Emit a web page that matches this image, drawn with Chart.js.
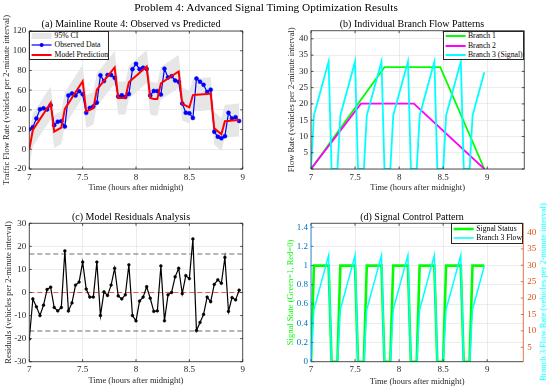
<!DOCTYPE html>
<html><head><meta charset="utf-8">
<script src="https://cdn.jsdelivr.net/npm/chart.js@4.4.0/dist/chart.umd.min.js"></script>
<style>
html,body{margin:0;padding:0;background:#fff;}
#wrap{position:relative;width:550px;height:388px;overflow:hidden;background:#fff;font-family:'Liberation Serif','Times New Roman',serif;color:#000;}
canvas{position:absolute;left:0;top:0;}
.t{position:absolute;white-space:nowrap;transform:translate(-50%,-50%);line-height:1;}
.leg{position:absolute;background:#fff;border:0.7px solid #262626;box-sizing:border-box;font-size:7.7px;}
.legtx{position:absolute;white-space:nowrap;line-height:1;transform:translateY(-50%);color:#000;}
</style></head>
<body><div id="wrap">
<canvas id="ca" width="550" height="388"></canvas>
<canvas id="cb" width="550" height="388"></canvas>
<canvas id="cc" width="550" height="388"></canvas>
<canvas id="cd" width="550" height="388"></canvas>
<div class="t" style="left:266px;top:7.5px;font-size:11.3px;">Problem 4: Advanced Signal Timing Optimization Results</div>
<div class="t" style="left:131px;top:24px;font-size:10px;">(a) Mainline Route 4: Observed vs Predicted</div>
<div class="t" style="left:412px;top:24px;font-size:10px;">(b) Individual Branch Flow Patterns</div>
<div class="t" style="left:131px;top:216.7px;font-size:10px;">(c) Model Residuals Analysis</div>
<div class="t" style="left:412px;top:216.7px;font-size:10px;">(d) Signal Control Pattern</div>
<div class="t" style="left:543.3px;top:292px;font-size:8.5px;color:#00FFFF;transform:translate(-50%,-50%) rotate(-90deg);">Branch 3 Flow Rate (vehicles per 2-minute interval)</div>
</div>
<script>
// ---------- data ----------
const timeHours = [
 7.0000,7.0333,7.0667,7.1000,7.1333,7.1667,7.2000,7.2333,7.2667,7.3000,
 7.3333,7.3667,7.4000,7.4333,7.4667,7.5000,7.5333,7.5667,7.6000,7.6333,
 7.6667,7.7000,7.7333,7.7667,7.8000,7.8333,7.8667,7.9000,7.9333,7.9667,
 8.0000,8.0333,8.0667,8.1000,8.1333,8.1667,8.2000,8.2333,8.2667,8.3000,
 8.3333,8.3667,8.4000,8.4333,8.4667,8.5000,8.5333,8.5667,8.6000,8.6333,
 8.6667,8.7000,8.7333,8.7667,8.8000,8.8333,8.8667,8.9000,8.9333,8.9667];
const observedFlow = [
 20.2,22.4,31.3,40.6,41.6,40.3,44.8,24.5,28.0,28.5,
 23.0,54.6,56.7,54.6,58.9,55.8,37.0,42.0,43.5,47.3,
 75.0,69.2,75.3,75.3,72.5,53.5,54.8,53.0,56.0,81.2,
 86.7,81.3,82.8,81.5,54.5,59.2,59.0,55.5,81.7,72.8,
 74.2,69.8,68.5,46.5,37.0,36.6,31.8,71.8,68.6,65.4,
 58.2,60.5,17.8,12.8,11.2,13.3,37.0,31.3,32.6,28.7];
const predictedFlow = [
 0.0,19.6,25.1,30.6,36.1,41.6,47.1,18.0,20.0,22.0,
 41.0,46.6,52.2,57.8,63.4,69.0,38.5,40.0,41.5,60.5,
 65.0,69.5,74.0,78.5,83.0,52.0,52.0,52.0,68.0,71.2,
 74.4,77.6,80.8,84.0,52.0,51.0,51.0,67.0,69.4,71.8,
 74.2,76.6,79.0,46.0,44.3,42.6,55.0,55.3,55.6,55.9,
 56.2,56.5,21.3,18.3,15.2,28.5,28.8,29.1,29.4,29.7];
const residuals = [
 -20.2,-2.8,-6.2,-10.0,-5.5,1.3,2.3,-6.5,-8.0,-6.5,
 18.0,-8.0,-4.5,3.2,4.5,13.2,1.5,-2.0,-2.0,13.2,
 -10.0,0.3,-1.3,3.2,10.5,-1.5,-2.8,-1.0,12.0,-10.0,
 -12.3,-3.7,-2.0,2.5,-2.5,-8.2,-8.0,11.5,-12.3,-1.0,
 0.0,6.8,10.5,-0.5,7.3,6.0,23.2,-16.5,-13.0,-9.5,
 -2.0,-4.0,3.5,5.5,4.0,15.2,-8.2,-2.2,-3.2,1.0];
const ciHalfWidth = 16.7;
const residualBound = 16.7;
const signalStatus = [
 0,1,1,1,1,1,1,0,0,0,
 1,1,1,1,1,1,0,0,0,
 1,1,1,1,1,1,0,0,0,
 1,1,1,1,1,1,0,0,0,
 1,1,1,1,1,1,0,0,0,
 1,1,1,1,1,1,0,0,0,
 1,1,1,1,1];
const branch3Flow = [
 0,16.5,19.8,23.1,26.4,29.7,33.0,0,0,0,
 16.5,19.8,23.1,26.4,29.7,33.0,0,0,0,
 16.5,19.8,23.1,26.4,29.7,33.0,0,0,0,
 16.5,19.8,23.1,26.4,29.7,33.0,0,0,0,
 16.5,19.8,23.1,26.4,29.7,33.0,0,0,0,
 16.5,19.8,23.1,26.4,29.7,33.0,0,0,0,
 16.5,19.8,23.1,26.4,29.7];
const branch1Times = [7.0000, 7.8333, 8.4667, 8.9667];
const branch1Flow  = [0, 31.3, 31.3, 0];
const branch2Times = [7.0000, 7.5667, 8.1667, 8.9667];
const branch2Flow  = [0, 20.1, 20.1, 0];

const timeTicks = [7, 7.5, 8, 8.5, 9];
const mainlineTicks = [-20, 0, 20, 40, 60, 80, 100, 120];
const branchTicks = [0, 5, 10, 15, 20, 25, 30, 35, 40];
const residualTicks = [-30, -20, -10, 0, 10, 20, 30];
const signalTicks = [0, 0.2, 0.4, 0.6, 0.8, 1, 1.2, 1.4];
const branch3AxisTicks = [5, 10, 15, 20, 25, 30, 35, 40];

// ---------- helpers ----------
const FONT = "'Liberation Serif','Times New Roman',serif";
Chart.defaults.font.family = FONT;
const tickFont = {family: FONT, size: 9};
const axisFont = {family: FONT, size: 8.5, lineHeight: 1.2};
const AX = '#262626';
const GRID = '#dfdfdf';
const pts = (xs, ys) => xs.map((x, i) => ({x: x, y: ys[i]}));

function xScale(max, h) {
  return {
    type: 'linear', position: 'bottom', min: 7, max: max,
    afterBuildTicks: s => { s.ticks = timeTicks.map(v => ({value: v})); },
    afterFit: s => { s.height = h; },
    ticks: {font: tickFont, color: AX, padding: 3, maxRotation: 0, minRotation: 0, autoSkip: false, callback: v => String(v)},
    grid: {color: GRID, lineWidth: 0.6, drawTicks: false},
    border: {display: false},
    title: {display: true, text: 'Time (hours after midnight)', font: axisFont, color: AX, padding: 0}
  };
}
function yScale(pos, min, max, ticks, w, title, opts) {
  opts = opts || {};
  return {
    type: 'linear', position: pos, min: min, max: max,
    afterBuildTicks: s => { s.ticks = ticks.map(v => ({value: v})); },
    afterFit: s => { s.width = w; },
    ticks: {font: tickFont, color: opts.tickColor || AX, padding: opts.pad || 3, callback: opts.cb || (v => String(v))},
    grid: {color: GRID, lineWidth: 0.6, drawTicks: false, display: opts.grid !== false},
    border: {display: false},
    title: {display: !!title, text: title || '', font: axisFont, color: opts.titleColor || AX, padding: 0}
  };
}

const framePlugin = {
  id: 'frame',
  afterDatasetsDraw(chart, args, o) {
    const ctx = chart.ctx, a = chart.chartArea, tl = 2.5;
    ctx.save();
    ctx.lineWidth = 0.8;
    ctx.strokeStyle = AX;
    const xs = chart.scales.x;
    ctx.beginPath();
    xs.ticks.forEach(t => {
      const px = xs.getPixelForValue(t.value);
      ctx.moveTo(px, a.bottom); ctx.lineTo(px, a.bottom - tl);
      ctx.moveTo(px, a.top); ctx.lineTo(px, a.top + tl);
    });
    ctx.moveTo(a.left, a.top); ctx.lineTo(a.right, a.top);
    ctx.moveTo(a.left, a.bottom); ctx.lineTo(a.right, a.bottom);
    ctx.stroke();
    const ys = chart.scales.y;
    ctx.strokeStyle = o.leftColor || AX;
    ctx.beginPath();
    ys.ticks.forEach(t => {
      const py = ys.getPixelForValue(t.value);
      ctx.moveTo(a.left, py); ctx.lineTo(a.left + tl, py);
      if (!o.dual) { ctx.moveTo(a.right, py); ctx.lineTo(a.right - tl, py); }
    });
    ctx.moveTo(a.left, a.top); ctx.lineTo(a.left, a.bottom);
    if (!o.dual) { ctx.moveTo(a.right, a.top); ctx.lineTo(a.right, a.bottom); }
    ctx.stroke();
    if (o.dual) {
      const y1 = chart.scales.y1;
      ctx.strokeStyle = o.rightColor;
      ctx.beginPath();
      y1.ticks.forEach(t => {
        const py = y1.getPixelForValue(t.value);
        ctx.moveTo(a.right, py); ctx.lineTo(a.right - tl, py);
      });
      ctx.moveTo(a.right, a.top); ctx.lineTo(a.right, a.bottom);
      ctx.stroke();
    }
    ctx.restore();
  }
};

function baseOptions(padding, scales, frame) {
  return {
    responsive: false, animation: false, events: [],
    layout: {padding: padding},
    scales: scales,
    elements: {line: {tension: 0}},
    plugins: {legend: {display: false}, tooltip: {enabled: false}, title: {display: false}, frame: frame || {}}
  };
}

// ---------- (a) ----------
const ciUpper = predictedFlow.map(v => v + ciHalfWidth);
const ciLower = predictedFlow.map(v => v - ciHalfWidth);
new Chart(document.getElementById('ca'), {
  type: 'line',
  data: {datasets: [
    {label: 'CI upper', data: pts(timeHours, ciUpper), borderWidth: 0, pointRadius: 0, fill: false, borderColor: 'rgba(0,0,0,0)', order: 3},
    {label: '95% CI', data: pts(timeHours, ciLower), borderWidth: 0, pointRadius: 0, fill: '-1', backgroundColor: '#e6e6e6', borderColor: 'rgba(0,0,0,0)', order: 3},
    {label: 'Observed Data', data: pts(timeHours, observedFlow), borderColor: '#0000FF', borderWidth: 1.2, pointRadius: 2, pointBackgroundColor: '#0000FF', pointBorderColor: '#0000FF', pointBorderWidth: 0.5, fill: false, order: 1},
    {label: 'Model Prediction', data: pts(timeHours, predictedFlow), borderColor: '#FF0000', borderWidth: 2, pointRadius: 0, fill: false, order: 0}
  ]},
  options: baseOptions({left: 1.6, top: 31, right: 307.3, bottom: 194.9}, {
    x: xScale(9, 24.1),
    y: yScale('left', -20, 120, mainlineTicks, 27.7, 'Traffic Flow Rate (vehicles per 2-minute interval)')
  })
  , plugins: [framePlugin]
});

// ---------- (b) ----------
new Chart(document.getElementById('cb'), {
  type: 'line',
  data: {datasets: [
    {label: 'Branch 1', data: pts(branch1Times, branch1Flow), borderColor: '#00FF00', borderWidth: 1.8, pointRadius: 0, fill: false, order: 2},
    {label: 'Branch 2', data: pts(branch2Times, branch2Flow), borderColor: '#FF00FF', borderWidth: 1.8, pointRadius: 0, fill: false, order: 1},
    {label: 'Branch 3 (Signal)', data: pts(timeHours, branch3Flow), borderColor: '#00FFFF', borderWidth: 1.8, pointRadius: 0, fill: false, order: 0}
  ]},
  options: baseOptions({left: 286.6, top: 30.7, right: 25.7, bottom: 194.9}, {
    x: xScale(9.42, 24.1),
    y: yScale('left', 0, 42.5, branchTicks, 24.4, 'Flow Rate (vehicles per 2-minute interval)', {cb: v => v === 0 ? '' : String(v)})
  }),
  plugins: [framePlugin]
});

// ---------- (c) ----------
new Chart(document.getElementById('cc'), {
  type: 'line',
  data: {datasets: [
    {label: 'Residuals', data: pts(timeHours, residuals), borderColor: '#000000', borderWidth: 1.2, pointRadius: 1.4, pointBackgroundColor: '#000', pointBorderColor: '#000', pointBorderWidth: 0.5, fill: false, order: 0},
    {label: 'Zero', data: [{x: 7, y: 0}, {x: 9, y: 0}], borderColor: 'rgba(255,0,0,0.65)', borderWidth: 1, borderDash: [5, 3], pointRadius: 0, fill: false, order: 2},
    {label: 'Upper bound', data: [{x: 7, y: residualBound}, {x: 9, y: residualBound}], borderColor: '#6e6e6e', borderWidth: 1.2, borderDash: [5, 3], pointRadius: 0, fill: false, order: 1},
    {label: 'Lower bound', data: [{x: 7, y: -residualBound}, {x: 9, y: -residualBound}], borderColor: '#6e6e6e', borderWidth: 1.2, borderDash: [5, 3], pointRadius: 0, fill: false, order: 1}
  ]},
  options: baseOptions({left: 3.2, top: 223.3, right: 307.3, bottom: 2.2}, {
    x: xScale(9, 24.1),
    y: yScale('left', -30, 30, residualTicks, 26.1, 'Residuals (vehicles per 2-minute interval)')
  }),
  plugins: [framePlugin]
});

// ---------- (d) ----------
new Chart(document.getElementById('cd'), {
  type: 'line',
  data: {datasets: [
    {label: 'Signal Status', data: pts(timeHours, signalStatus), yAxisID: 'y', borderColor: '#00FF00', borderWidth: 2.6, pointRadius: 0, fill: false, order: 1},
    {label: 'Branch 3 Flow', data: pts(timeHours, branch3Flow), yAxisID: 'y1', borderColor: '#00FFFF', borderWidth: 1.5, pointRadius: 0, fill: false, order: 0}
  ]},
  options: baseOptions({left: 285.6, top: 223.3, right: 1.6, bottom: 0.7}, {
    x: xScale(9.41, 25.6),
    y: yScale('left', 0, 1.44, signalTicks, 25.4, 'Signal State (Green=1, Red=0)', {tickColor: '#0072BD', titleColor: '#00FF00', cb: v => String(Number(v.toFixed(1)))}),
    y1: yScale('right', 0.6, 42.8, branch3AxisTicks, 25.1, '', {tickColor: '#D95319', pad: 4, grid: false})
  }, {dual: true, leftColor: '#0072BD', rightColor: '#D95319'}),
  plugins: [framePlugin]
});

// ---------- legends ----------
const wrap = document.getElementById('wrap');
function makeLegend(left, top, width, height, items) {
  const box = document.createElement('div');
  box.className = 'leg';
  Object.assign(box.style, {left: left + 'px', top: top + 'px', width: width + 'px', height: height + 'px'});
  const NS = 'http://www.w3.org/2000/svg';
  items.forEach((it, k) => {
    const cy = 4.6 + k * 9.3;
    const svg = document.createElementNS(NS, 'svg');
    svg.setAttribute('width', '24'); svg.setAttribute('height', '10');
    Object.assign(svg.style, {position: 'absolute', left: '0px', top: (cy - 5) + 'px'});
    if (it.patch) {
      const r = document.createElementNS(NS, 'rect');
      r.setAttribute('x', '1.6'); r.setAttribute('y', '2'); r.setAttribute('width', '20'); r.setAttribute('height', '6');
      r.setAttribute('fill', it.patch);
      svg.appendChild(r);
    } else {
      const l = document.createElementNS(NS, 'line');
      l.setAttribute('x1', '1.6'); l.setAttribute('x2', '21.6'); l.setAttribute('y1', '5'); l.setAttribute('y2', '5');
      l.setAttribute('stroke', it.color); l.setAttribute('stroke-width', it.width);
      svg.appendChild(l);
      if (it.marker) {
        const c = document.createElementNS(NS, 'circle');
        c.setAttribute('cx', '11.6'); c.setAttribute('cy', '5'); c.setAttribute('r', '2'); c.setAttribute('fill', it.color);
        svg.appendChild(c);
      }
    }
    box.appendChild(svg);
    const tx = document.createElement('div');
    tx.className = 'legtx';
    tx.textContent = it.label;
    Object.assign(tx.style, {left: '24.3px', top: cy + 'px'});
    box.appendChild(tx);
  });
  wrap.appendChild(box);
}
makeLegend(29.3, 30.5, 80, 29, [
  {label: '95% CI', patch: '#e6e6e6'},
  {label: 'Observed Data', color: '#0000FF', width: 1.2, marker: true},
  {label: 'Model Prediction', color: '#FF0000', width: 2}
]);
makeLegend(442.7, 30.7, 81.6, 29.5, [
  {label: 'Branch 1', color: '#00FF00', width: 2},
  {label: 'Branch 2', color: '#FF00FF', width: 2},
  {label: 'Branch 3 (Signal)', color: '#00FFFF', width: 2}
]);
makeLegend(451, 223.3, 72.3, 20.5, [
  {label: 'Signal Status', color: '#00FF00', width: 2.6},
  {label: 'Branch 3 Flow', color: '#00FFFF', width: 1.5}
]);
</script>
</body></html>
